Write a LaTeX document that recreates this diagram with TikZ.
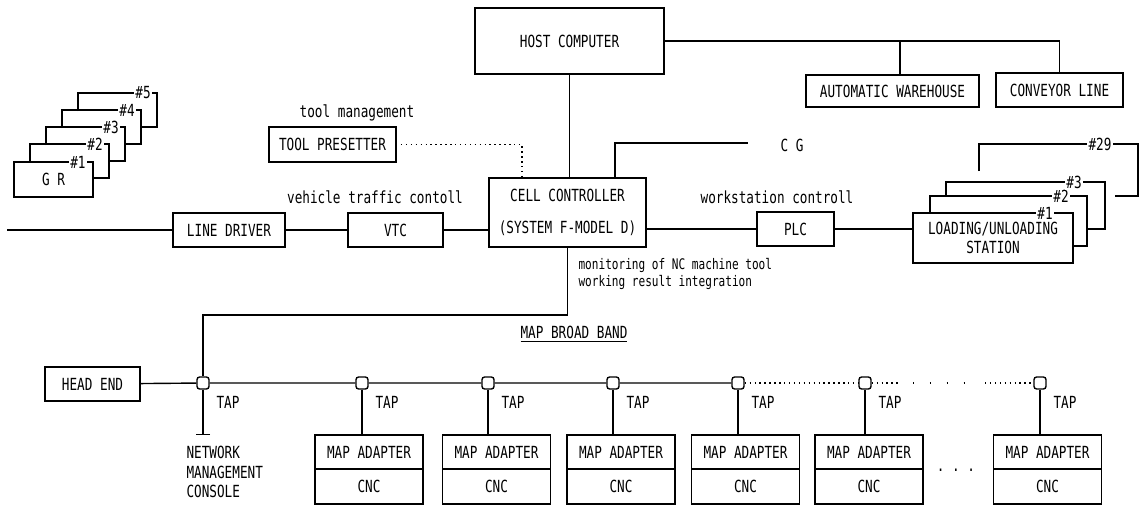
\documentclass[tikz,border=0pt]{standalone}
\usepackage{fontspec}
\setmonofont[FakeStretch=0.76]{DejaVu Sans Mono}
\usetikzlibrary{positioning,arrows.meta}

\begin{document}
\begin{tikzpicture}[x=0.02cm,y=-0.02cm,line width=0.8pt,
    every node/.style={font=\ttfamily\fontsize{9.5}{11}\selectfont},
    box/.style={draw,inner sep=0pt,outer sep=0pt,minimum height=0.68cm},
    tap/.style={draw,rounded corners=1.5pt,minimum size=0.24cm,inner sep=0pt},
    num/.style={fill=white,inner sep=1pt},
    sparse/.style={dash pattern=on 0.8pt off 8.8pt}]
    \useasboundingbox (0,0) rectangle (1139,507);

    %host
    \node[box,minimum width=3.78cm,minimum height=1.32cm] (host) at (569.5,41) {HOST COMPUTER};
    \node[box,minimum width=3.46cm,minimum height=0.64cm] (ware) at (892.5,91) {AUTOMATIC WAREHOUSE};
    \node[box,minimum width=2.54cm] (conv) at (1059.5,90) {CONVEYOR LINE};
    \draw (host.east) -| (conv.north);
    \draw ([xshift=0.15cm]ware.north) -- ([xshift=0.15cm]ware.north |- host.east);

    %cell controller
    \node[box,minimum width=3.14cm,minimum height=1.38cm,align=center] (cell) at (567.5,212.5)
        {CELL CONTROLLER\\[7pt](SYSTEM F-MODEL D)};
    \draw (host.south) -- (host.south |- cell.north);
    \node[box,minimum width=2.54cm,minimum height=0.70cm] (tp) at (332.5,144.5) {TOOL PRESETTER};
    \node (tplab) at (357,113) {tool management};
    \draw[dotted] (tp.east) -| ([xshift=-0.91cm]cell.north);
    \coordinate (cgend) at (748,143);
    \draw ([xshift=0.95cm]cell.north) |- (cgend);
    \node (cg) at (792,145) {C G};

    %lato sinistro
    \coordinate (lineend) at (7,230);
    \node[box,minimum width=2.24cm] (ld) at (229,230) {LINE DRIVER};
    \node[box,minimum width=1.9cm] (vtc) at (395.5,230) {VTC};
    \node (vtclab) at (375,197) {vehicle traffic contoll};
    \draw (lineend) -- (ld) -- (vtc) -- (vtc.east -| cell.west);

    %lato destro
    \node[box,minimum width=1.54cm] (plc) at (795.5,229) {PLC};
    \node (plclab) at (777,197) {workstation controll};
    \node[box,minimum width=3.2cm,minimum height=1cm,align=center] (load) at (993,238)
        {LOADING/UNLOADING\\STATION};
    \draw (plc.west -| cell.east) -- (plc) -- (plc.east -| load.west);
    \draw (930,213) |- (1087,196) |- (1073,246);
    \draw (946,196) |- (1105,182) |- (1087,229);
    \draw (979,171) |- (1138,144) |- (1115,196);
    \node[num] at (1045,213) {\#1};
    \node[num] at (1061,196) {\#2};
    \node[num] at (1074,182) {\#3};
    \node[num] at (1100,144) {\#29};

    %G R
    \node[box,minimum width=1.58cm,minimum height=0.70cm] (gr) at (53.5,179.5) {G R};
    \node[num] at (78,162) {\#1};
    \foreach \i/\n in {0/2,1/3,2/4,3/5}{
        \draw ({30+16*\i},{162-17*\i}) |- ({109+16*\i},{144-17*\i}) |- ({93+16*\i},{178-17*\i});
        \node[num] at ({95+16*\i},{144-17*\i}) {\#\n};
    }

    \node[anchor=west,align=left,font=\ttfamily\fontsize{8.3}{10.2}\selectfont] (monlab) at (572,274)
        {monitoring of NC machine tool\\working result integration};

    %rete MAP
    \node (mbb) at (574,334) {\underline{MAP BROAD BAND}};
    \node[box,minimum width=1.9cm] (head) at (92.5,384) {HEAD END};
    \foreach \n/\x in {1/203,2/362,3/488,4/613,5/738,6/865,7/1040}{
        \node[tap] (t\n) at (\x,383) {};
        \node at ([shift={(0.5cm,-0.38cm)}]t\n) {TAP};
    }
    \coordinate (bend) at (203,315);
    \draw (cell.south) |- (bend) -- (t1);
    \draw (head) -- (t1) -- (t2) -- (t3) -- (t4) -- (t5);
    \draw[dotted] (t5) -- (t6);
    \coordinate (d1) at (898,383);
    \coordinate (d2) at (913,383);
    \coordinate (d3) at (966,383);
    \coordinate (d4) at (985,383);
    \draw[dotted] (t6) -- (d1);
    \draw[sparse] (d2) -- (d3);
    \draw[dotted] (d4) -- (t7);

    \coordinate (nmcbar) at (203,435);
    \draw[-{Bar[width=8pt]}] (t1) -- (nmcbar);
    \node[anchor=west,align=left,font=\ttfamily\fontsize{9.5}{11.3}\selectfont] (nmc) at (180,472)
        {NETWORK\\MANAGEMENT\\CONSOLE};

    \foreach \n/\x in {2/369,3/496.5,4/621,5/745.5,6/869,7/1047.5}{
        \node[box,minimum width=2.16cm] (m\n) at (\x,452) {MAP ADAPTER};
        \node[box,minimum width=2.16cm,minimum height=0.70cm,below=0pt of m\n] (c\n) {CNC};
        \draw (t\n) -- (t\n |- m\n.north);
    }
    \node (dots) at (956,470) {. . .};

\end{tikzpicture}
\end{document}
